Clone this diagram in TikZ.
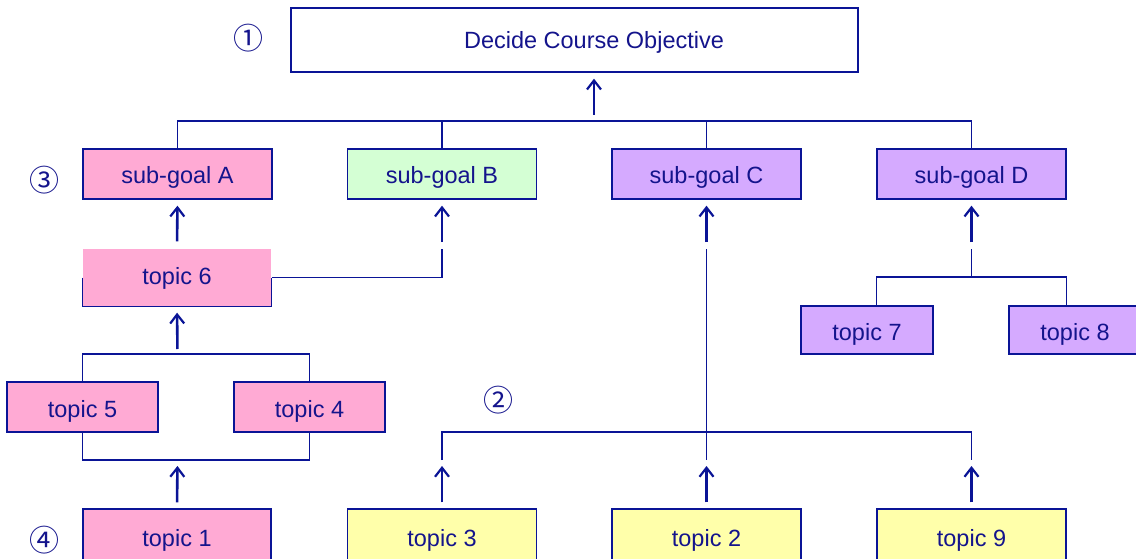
\documentclass[tikz,border=0pt]{standalone}
\usepackage{fontspec}
\setmainfont{Liberation Sans}
\newfontfamily\circfont{Noto Sans CJK SC}
\usetikzlibrary{arrows.meta}
\definecolor{navy}{HTML}{0A1496}
\definecolor{txt}{HTML}{14148C}
\definecolor{pinkf}{HTML}{FFAAD4}
\definecolor{greenf}{HTML}{D4FFD4}
\definecolor{purpf}{HTML}{D5AAFF}
\definecolor{yellf}{HTML}{FFFFAA}
\tikzset{
  box/.style={draw=navy, line width=1.4pt, inner sep=0pt, text=txt,
    font=\fontsize{23.5}{28}\selectfont, minimum width=189pt, minimum height=50pt,
    text height=20pt, text depth=0pt},
  ln/.style={draw=navy, line width=1.4pt},
  arr/.style={draw=navy, line width=2.6pt, -{Straight Barb[length=9pt,width=14pt,line width=2.2pt]}},
  circ/.style={text=txt, font=\circfont\fontsize{30}{34}\selectfont, inner sep=0pt}
}
\begin{document}
\begin{tikzpicture}[x=1pt,y=-1pt]
\useasboundingbox (0,0) rectangle (1136,559);
% boxes
\node[box, fill=white, minimum width=567pt, minimum height=64pt, text height=18pt] (dec) at (574.5,40) {\hspace*{39pt}Decide Course Objective};
\node[box, fill=pinkf] (sa) at (177.5,174) {sub-goal A};
\node[box, fill=greenf] (sb) at (442,174) {sub-goal B};
\node[box, fill=purpf] (sc) at (706.5,174) {sub-goal C};
\node[box, fill=purpf] (sd) at (971.5,174) {sub-goal D};
\node[box, draw=none, fill=pinkf, minimum width=188pt, minimum height=57pt, text height=13pt] (t6) at (177,277.5) {topic 6};
\draw[ln] (t6.west) -- (t6.south west) -- (t6.south east) -- (t6.east);
\node[box, fill=pinkf, minimum width=151pt] (t5) at (82.5,407) {topic 5};
\node[box, fill=pinkf, minimum width=151pt] (t4) at (309.5,407) {topic 4};
\node[box, fill=purpf, minimum width=132pt, minimum height=48pt, text height=21pt] (t7) at (867,330) {topic 7};
\node[box, fill=purpf, minimum width=132pt, minimum height=48pt, text height=21pt] (t8) at (1075,330) {topic 8};
\node[box, fill=pinkf, minimum width=188pt, minimum height=54pt] (t1) at (177,536) {topic 1};
\node[box, fill=yellf, minimum height=54pt] (t3) at (442,536) {topic 3};
\node[box, fill=yellf, minimum height=54pt] (t2) at (706.5,536) {topic 2};
\node[box, fill=yellf, minimum height=54pt] (t9) at (971.5,536) {topic 9};
% circled numbers
\node[circ] (n1) at (248,38) {①};
\node[circ] (n3) at (45,180) {③};
\node[circ] (n2) at (498,400) {②};
\node[circ] (n4) at (45,540) {④};
% coordinates
\coordinate (ktop) at (594,121);
\coordinate (k6) at (442,249);
\coordinate (kc) at (706.5,249);
\coordinate (kd) at (971.5,249);
\coordinate (g1) at (177.5,354);
\coordinate (g2) at (177.5,460);
\coordinate (g3) at (442,460);
\coordinate (g4) at (706.5,460);
\coordinate (g5) at (971.5,460);
% top bracket
\draw[ln] (sa.north) -- (sa.north |- ktop) -- (sd.north |- ktop) -- (sd.north);
\draw[ln] (sb.north) -- (sb.north |- ktop);
\draw[ln] (sc.north) -- (sc.north |- ktop);
\draw[arr, shorten <=6pt, shorten >=6pt] (ktop) -- (ktop |- dec.south);
% topic 6
\draw[arr, shorten <=7pt, shorten >=6pt] (t6.north) -- (sa.south);
\draw[ln] (t6.east) -| (k6);
\draw[arr, shorten <=7pt, shorten >=6pt] (k6) -- (sb.south);
% topic 5 / 4
\draw[ln] (t5.north) |- (g1) -| (t4.north);
\draw[arr, shorten <=5pt, shorten >=6pt] (g1) -- (t6.south);
\draw[ln] (t5.south) |- (g2) -| (t4.south);
\draw[arr, shorten <=6pt, shorten >=6pt] (t1.north) -- (g2);
% sub-goal C and bottom bracket
\draw[ln] (kc) -- (g4);
\draw[arr, shorten <=7pt, shorten >=6pt] (kc) -- (sc.south);
\draw[ln] (g3) -- (442,432) -- (971.5,432) -- (g5);
\draw[arr, shorten <=6pt, shorten >=6pt] (t3.north) -- (g3);
\draw[arr, shorten <=6pt, shorten >=6pt] (t2.north) -- (g4);
\draw[arr, shorten <=6pt, shorten >=6pt] (t9.north) -- (g5);
% sub-goal D
\draw[arr, shorten <=7pt, shorten >=6pt] (kd) -- (sd.south);
\draw[ln] (kd) -- (971.5,277);
\draw[ln] (sd.west |- t7.north) -- (sd.west |- 0,277) -- (sd.east |- 0,277) -- (sd.east |- t8.north);
\end{tikzpicture}
\end{document}
